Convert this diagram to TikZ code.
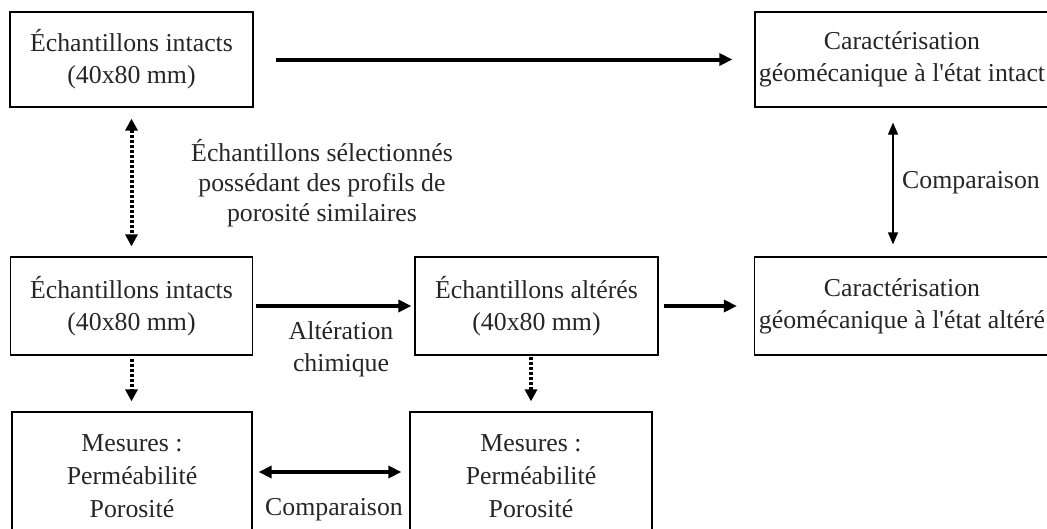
\documentclass[tikz,border=0pt]{standalone}
\usepackage{fontspec}
\setmainfont{Liberation Serif}
\usetikzlibrary{arrows.meta}
\begin{document}
\begin{tikzpicture}[x=1pt,y=-1pt,
  every node/.style={font=\fontsize{25.8}{32}\selectfont, align=center, inner sep=0pt},
  box/.style={draw, line width=1.2pt, text=black!85},
  lbl/.style={text=black!85},
  thick arrow/.style={line width=4pt, -{Triangle[length=13pt,width=12pt]}},
  thick darrow/.style={line width=4pt, {Triangle[length=13pt,width=12pt]}-{Triangle[length=13pt,width=12pt]}},
  dotted arrow/.style={line width=4pt, dash pattern=on 3pt off 2pt, -{Triangle[length=12pt,width=12pt]}},
  dotted darrow/.style={line width=4pt, dash pattern=on 3pt off 2pt, {Triangle[length=12pt,width=12pt]}-{Triangle[length=12pt,width=12pt]}},
  thin darrow/.style={line width=1.2pt, {Triangle[length=12pt,width=10pt]}-{Triangle[length=12pt,width=10pt]}}
]
\useasboundingbox (0,0) rectangle (1047,528);

\node[box, minimum width=243pt, minimum height=95pt] (A) at (131.5,59.5) {Échantillons intacts\\(40x80 mm)};
\node[box, minimum width=294pt, minimum height=95pt] (B) at (902,59.5) {Caractérisation\\géomécanique à l\textquotesingle état intact};
\node[box, minimum width=242pt, minimum height=98pt] (C) at (131.5,306) {Échantillons intacts\\(40x80 mm)};
\node[box, minimum width=243pt, minimum height=98pt] (D) at (536.5,306) {Échantillons altérés\\(40x80 mm)};
\node[box, minimum width=295pt, minimum height=98pt] (E) at (902,306) {Caractérisation\\géomécanique à l\textquotesingle état altéré};
\node[box, minimum width=240pt, minimum height=128pt, font=\fontsize{25.8}{33}\selectfont] (F) at (132,476) {Mesures :\\Perméabilité\\Porosité};
\node[box, minimum width=242pt, minimum height=128pt, font=\fontsize{25.8}{33}\selectfont] (G) at (531,476) {Mesures :\\Perméabilité\\Porosité};

\node[lbl, font=\fontsize{25.8}{30}\selectfont] (L1) at (322,183) {Échantillons sélectionnés\\possédant des profils de\\porosité similaires};
\node[lbl] (L2) at (971,183) {Comparaison};
\node[lbl] (L3) at (341,349) {Altération\\chimique};
\node[lbl] (L4) at (334,510) {Comparaison};

\draw[thick arrow, shorten <=22pt, shorten >=22pt] (A.east) -- (A.east -| B.west);
\draw[dotted darrow, shorten <=11pt, shorten >=10pt] (A.south) -- (C.north);
\draw[thin darrow, shorten <=15pt, shorten >=12pt] ([xshift=-9pt]B.south) -- ([xshift=-9pt]E.north);
\draw[thick arrow, shorten <=3pt, shorten >=3pt] (C.east) -- (C.east -| D.west);
\draw[thick arrow, shorten <=5pt, shorten >=17pt] (D.east) -- (D.east -| E.west);
\draw[dotted arrow, shorten <=3pt, shorten >=10pt] (C.south) -- (C.south |- F.north);
\draw[dotted arrow, shorten <=1pt, shorten >=10pt] (G.north |- D.south) -- (G.north);
\draw[thick darrow, shorten <=6pt, shorten >=8pt] ([yshift=4pt]F.east) -- ([yshift=4pt]G.west);
\end{tikzpicture}
\end{document}
